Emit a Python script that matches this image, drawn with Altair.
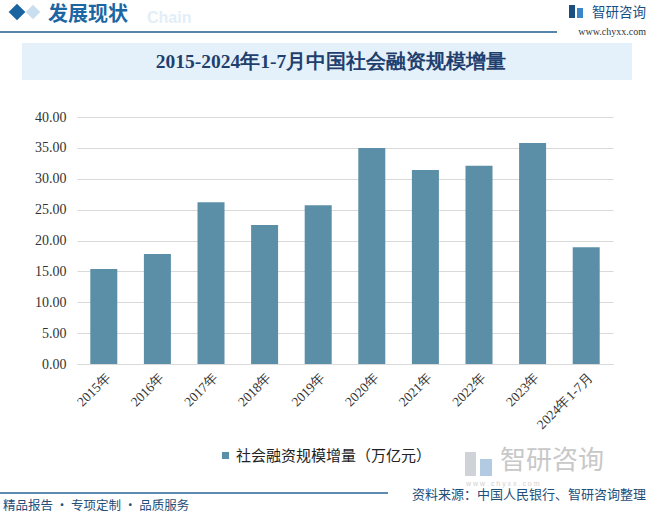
import altair as alt
import pandas as pd

categories = ["2015年", "2016年", "2017年", "2018年", "2019年", "2020年",
              "2021年", "2022年", "2023年", "2024年1-7月"]
values = [15.4, 17.8, 26.2, 22.5, 25.7, 35.0, 31.4, 32.1, 35.8, 18.9]
series_name = "社会融资规模增量（万亿元）"
y_ticks = [0, 5, 10, 15, 20, 25, 30, 35, 40]

df = pd.DataFrame({"cat": categories, "val": values, "series": series_name})

W, H = 536, 247
PL, PT = 77, 117
BAR = "#5b8fa8"
DARK = "#1f4e79"


def txt(t, x, y, size=12, color=DARK, align="left", weight="normal", font="Noto Sans CJK SC", baseline="middle", opacity=1.0):
    return alt.Chart(pd.DataFrame({"t": [t]})).mark_text(
        align=align, baseline=baseline, fontSize=size, color=color,
        fontWeight=weight, font=font, opacity=opacity
    ).encode(x=alt.value(x - PL), y=alt.value(y - PT), text="t:N")


def rect(x1, x2, y1, y2, color):
    return alt.Chart(pd.DataFrame({"a": [0]})).mark_rect(color=color).encode(
        x=alt.value(x1 - PL), x2=alt.value(x2 - PL), y=alt.value(y1 - PT), y2=alt.value(y2 - PT))


def hline(x1, x2, y, color, w=1.5):
    return alt.Chart(pd.DataFrame({"a": [0]})).mark_rule(color=color, strokeWidth=w).encode(
        x=alt.value(x1 - PL), x2=alt.value(x2 - PL), y=alt.value(y - PT))


def diamond(x, y, color, size):
    return alt.Chart(pd.DataFrame({"a": [0]})).mark_point(
        shape="diamond", filled=True, color=color, size=size, opacity=1).encode(
        x=alt.value(x - PL), y=alt.value(y - PT))


bars = alt.Chart(df).mark_bar(size=27).encode(
    x=alt.X("cat:N", sort=categories, title=None,
            scale=alt.Scale(paddingInner=0.5, paddingOuter=0.25),
            axis=alt.Axis(labelAngle=-45, labelAlign="right", labelBaseline="top",
                          labelFont="Liberation Serif", labelFontSize=13.5, labelColor="#333333",
                          ticks=False, domainColor="#d9d9d9", labelPadding=6)),
    y=alt.Y("val:Q", title=None,
            scale=alt.Scale(domain=[0, 40]),
            axis=alt.Axis(values=y_ticks, format=".2f", labelFont="Liberation Serif",
                          labelFontSize=14, labelColor="#333333", ticks=False, domain=False,
                          gridColor="#d9d9d9", labelPadding=11)),
    color=alt.Color("series:N", scale=alt.Scale(range=[BAR]),
                    legend=alt.Legend(title=None, orient="none", legendX=223 - PL - 5,
                                      legendY=457 - PT - 9, symbolType="square",
                                      symbolSize=50, labelFontSize=15, labelColor="#222222",
                                      labelLimit=0, labelOffset=3,
                                      labelFont="Noto Sans CJK SC")),
)

layers = [
    # header
    txt("Chain", 147, 18, size=16, color="#e3eef7", weight="bold", font="Liberation Sans"),
    diamond(33, 12, "#c9deee", 210),
    diamond(17, 12, "#1a64a0", 280),
    txt("发展现状", 48, 15, size=20, color="#1c67a3", weight="bold"),
    hline(0, 557, 32, "#1f5d8e", 1.5),
    rect(569, 575, 5, 18, "#1b4f82"),
    rect(577, 583, 8, 18, "#3a86c8"),
    txt("智研咨询", 592, 13, size=13.5, color="#1b4f82"),
    txt("www.chyxx.com", 646, 32, size=10, color="#333333", align="right", font="Liberation Serif"),
    # title box
    rect(22, 632, 43, 80, "#e4f1fa"),
    txt("2015-2024年1-7月中国社会融资规模增量", 331, 62, size=19.5, color="#1f3f6e",
        align="center", weight="bold", font="Liberation Serif"),
    # watermark logo bottom right
    rect(465, 476, 452, 476, "#cfd3d8"),
    rect(480, 492, 459, 476, "#b3cbe2"),
    txt("智研咨询", 500, 461, size=26, color="#c8c8c8"),
    txt("w w w . c h y x x . c o m", 466, 484, size=7, color="#d0d0d0", font="Liberation Sans"),
    # footer
    hline(0, 388, 493, "#2a6496", 1.5),
    txt("精品报告 · 专项定制 · 品质服务", 3, 506, size=12.5, color=DARK),
    txt("资料来源：中国人民银行、智研咨询整理", 646, 495, size=13, color=DARK, align="right"),
]

chart = alt.layer(*layers, bars).properties(
    width=W, height=H,
    autosize=alt.AutoSizeParams(type="none"),
    padding={"left": PL, "top": PT, "right": 646 - PL - W, "bottom": 514 - PT - H},
    background="white",
).configure_view(stroke=None)

chart.save("out.html", embed_options={"renderer": "svg", "actions": False})
